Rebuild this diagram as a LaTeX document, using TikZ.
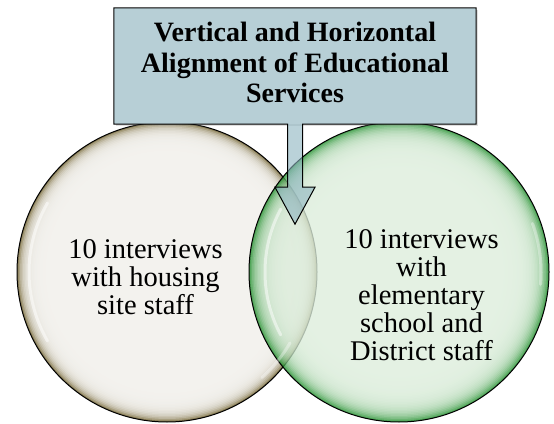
\documentclass[tikz,border=0pt]{standalone}
\usepackage{fontspec}
\setmainfont{Liberation Serif}
\usetikzlibrary{calc,shadows}

\definecolor{boxblue}{RGB}{183,207,214}
\definecolor{arrowblue}{RGB}{140,180,192}
\definecolor{sitefill}{RGB}{243,242,238}
\definecolor{siteedge}{RGB}{140,128,88}
\definecolor{schoolfill}{RGB}{220,237,219}
\definecolor{schooledge}{RGB}{28,140,40}

\tikzset{
  ballnode/.style={circle, minimum size=300pt, inner sep=0pt},
  outline/.style={draw=black, line width=1pt},
  gloss/.style={white, line width=3pt, line cap=round, opacity=0.5},
  callbox/.style={rectangle, minimum width=362pt, minimum height=116pt, inner sep=0pt,
    fill=boxblue, drop shadow={shadow xshift=2pt, shadow yshift=-2pt, opacity=0.25}},
  titletext/.style={align=center, font=\fontsize{28}{30.5}\selectfont\bfseries},
  circletext/.style={align=center, font=\fontsize{28.5}{28}\selectfont}
}

\begin{document}
\begin{tikzpicture}[x=1pt, y=1pt]
\useasboundingbox (0,0) rectangle (554,423);

\node[ballnode] (site) at (167,151) {};
\node[ballnode] (school) at (399,151) {};

% left circle, rim shaded by rings
\foreach \k in {0,...,25}{
  \pgfmathsetmacro\pct{100*exp(-\k/3.2)}
  \fill[siteedge!\pct!sitefill] (site.center) circle ({150-1.5*\k});
}
\draw[outline] (site.center) circle (150);

% right circle, see-through
\begin{scope}[transparency group, opacity=0.78]
\foreach \k in {0,...,30}{
  \pgfmathsetmacro\pct{100*exp(-\k/5)}
  \fill[schooledge!\pct!schoolfill] (school.center) circle ({150-1.5*\k});
}
\end{scope}
\draw[outline] (school.center) circle (150);

\draw[gloss] ($(site.center)+(150:138)$) arc[start angle=150, end angle=210, radius=138];
\draw[gloss, opacity=0.35] ($(site.center)+(-30:142)$) arc[start angle=-30, end angle=-48, radius=142];
\draw[gloss] ($(school.center)+(152:134)$) arc[start angle=152, end angle=208, radius=134];
\draw[gloss, opacity=0.35] ($(school.center)+(20:142)$) arc[start angle=20, end angle=-5, radius=142];

\node[callbox] (box) at (295,357) {};
\fill[arrowblue, fill opacity=0.6] ($(box.south)+(-7.5,0)$) -- ($(box.south)+(-7.5,-63)$)
  -- ($(box.south)+(-20,-63)$) -- ($(box.south)+(0,-100)$) -- ($(box.south)+(20,-63)$)
  -- ($(box.south)+(7.5,-63)$) -- ($(box.south)+(7.5,0)$) -- cycle;
\draw[outline, line join=miter] (box.south west) -- (box.north west) -- (box.north east)
  -- (box.south east) -- ($(box.south)+(7.5,0)$) -- ($(box.south)+(7.5,-63)$)
  -- ($(box.south)+(20,-63)$) -- ($(box.south)+(0,-100)$) -- ($(box.south)+(-20,-63)$)
  -- ($(box.south)+(-7.5,-63)$) -- ($(box.south)+(-7.5,0)$) -- cycle;

\node[titletext] (title) at ($(box.center)+(0,3.5)$)
  {Vertical and Horizontal\\Alignment of Educational\\Services};
\node[circletext] (sitetext) at ($(site.center)+(-21.5,-5)$)
  {10 interviews\\with housing\\site staff};
\node[circletext] (schooltext) at ($(school.center)+(22.5,-23)$)
  {10 interviews\\with\\elementary\\school and\\District staff};
\end{tikzpicture}
\end{document}
